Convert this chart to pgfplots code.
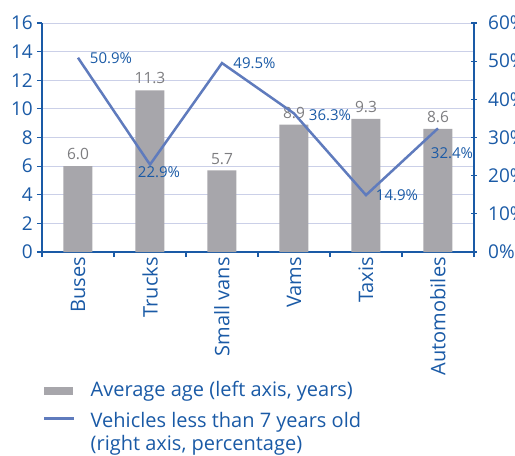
\documentclass[border=0pt]{standalone}
\usepackage{pgfplots}
\pgfplotsset{compat=1.18}
\usepackage{fontspec}
\setmainfont{Open Sans}
\definecolor{axblue}{HTML}{1A5AA6}
\definecolor{gridc}{HTML}{CBD0E8}
\definecolor{barc}{HTML}{A7A6AB}
\definecolor{linec}{HTML}{5F7BBD}
\definecolor{lblgray}{HTML}{7D7D80}

\pgfplotstableread{
x age
0 6.0
1 11.3
2 5.7
3 8.9
4 9.3
5 8.6
}\agedata

\pgfplotstableread{
x pct dx dy
0 50.9 33 0
1 22.9 9 -7.5
2 49.5 32.5 0
3 36.3 36 -1.5
4 14.9 31 0
5 32.4 14 -25
}\pctdata

\begin{document}
\begin{tikzpicture}
\begin{axis}[
  at={(0,0)}, anchor=south west,
  scale only axis, width=432bp, height=229bp,
  xmin=-0.5, xmax=5.5, ymin=0, ymax=16,
  axis x line*=bottom, axis y line*=left,
  axis line style={axblue, line width=2.2bp, -},
  ytick={0,2,...,16},
  ymajorgrids, grid style={gridc, line width=1bp},
  xtick={0,...,5},
  xticklabels={Buses,Trucks,Small vans,Vams,Taxis,Automobiles},
  minor xtick={-0.5,0.5,...,5.5},
  tick align=outside,
  major tick length=5bp, minor tick length=5bp,
  major x tick style={draw=none},
  tick style={axblue, line width=1.2bp},
  x tick label style={rotate=90, anchor=east, inner sep=0pt, yshift=0bp,
     font=\fontsize{20bp}{24bp}\selectfont, text=axblue},
  y tick label style={inner sep=0pt, xshift=-4bp,
     font=\fontsize{19bp}{23bp}\selectfont, text=axblue},
  /pgf/number format/assume math mode=true,
  legend style={at={(0,0)}, anchor=north west, xshift=1bp, yshift=-127bp,
     draw=none, fill=none, inner sep=0pt, row sep=0pt, column sep=13bp,
     font=\fontsize{20bp}{24bp}\selectfont, text=axblue,
     cells={anchor=base west, inner sep=0pt, text height=15bp}},
  legend cell align=left,
]
\addplot[ybar, bar width=29bp, bar shift=0pt, draw=none, fill=barc,
  nodes near coords={\pgfmathprintnumber[fixed,precision=1,fixed zerofill]{\pgfplotspointmeta}},
  every node near coord/.append style={anchor=south, inner sep=0pt, yshift=6bp,
     font=\fontsize{15.5bp}{18bp}\selectfont, text=lblgray},
  legend image code/.code={\fill[barc] (0bp,0bp) rectangle (29bp,7.5bp);}]
  table[x=x, y=age] {\agedata};
\addlegendentry[text depth=12.4bp]{Average age (left axis, years)}
\addlegendimage{legend image code/.code={\draw[linec, line width=2.5bp] (0bp,3.8bp) -- (30bp,3.8bp);}}
\addlegendentry[text depth=4bp]{Vehicles less than 7 years old}
\addlegendimage{legend image code/.code={}}
\addlegendentry[text depth=4bp]{(right axis, percentage)}
\end{axis}
\begin{axis}[
  at={(0,0)}, anchor=south west,
  scale only axis, width=432bp, height=229bp,
  xmin=-0.5, xmax=5.5, ymin=0, ymax=60,
  axis x line=none, axis y line*=right,
  axis line style={axblue, line width=2.2bp, -},
  ytick={0,10,...,60},
  yticklabel={\pgfmathprintnumber{\tick}\%},
  tick align=center, major tick length=6bp,
  tick style={axblue, line width=1.2bp},
  y tick label style={inner sep=0pt, xshift=11bp, anchor=west,
     font=\fontsize{19bp}{23bp}\selectfont, text=axblue},
  /pgf/number format/assume math mode=true,
]
\addplot[linec, line width=2.5bp, mark=none,
  point meta=explicit,
  visualization depends on={\thisrow{dx} \as \dx},
  visualization depends on={\thisrow{dy} \as \dy},
  nodes near coords={\pgfmathprintnumber[fixed,precision=1,fixed zerofill]{\pgfplotspointmeta}\%},
  every node near coord/.append style={anchor=center, inner sep=0pt,
     xshift=\dx bp, yshift=\dy bp,
     font=\fontsize{15bp}{18bp}\selectfont, text=axblue}]
  table[x=x, y=pct, meta=pct] {\pctdata};
\end{axis}
\pgfresetboundingbox
\path[use as bounding box] (-42bp,-204bp) rectangle (473bp,252bp);
\end{tikzpicture}
\end{document}
